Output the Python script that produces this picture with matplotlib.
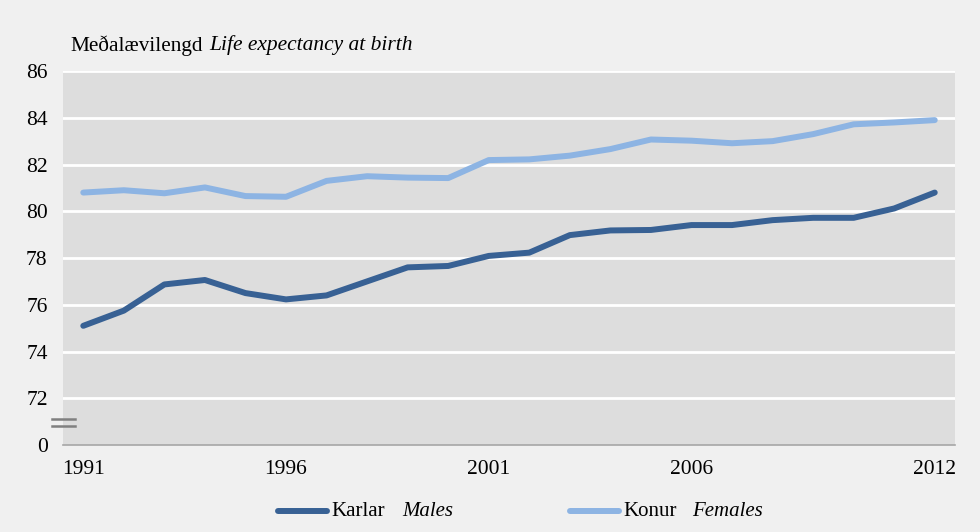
import numpy as np
import matplotlib.pyplot as plt
from matplotlib.lines import Line2D

plt.rcParams['font.family'] = ['Liberation Serif', 'DejaVu Serif']

# data
years = list(range(1991, 2013))
males = [75.1, 75.75, 76.87, 77.06, 76.5, 76.23, 76.4, 77.0, 77.6, 77.66, 78.09,
         78.23, 78.98, 79.18, 79.2, 79.41, 79.41, 79.62, 79.72, 79.72, 80.12, 80.8]
females = [80.8, 80.9, 80.77, 81.02, 80.65, 80.62, 81.3, 81.5, 81.44, 81.42, 82.19,
           82.22, 82.38, 82.66, 83.07, 83.02, 82.91, 83.0, 83.3, 83.72, 83.8, 83.9]
xtick_years = [1991, 1996, 2001, 2006, 2012]
ytick_vals = [70, 72, 74, 76, 78, 80, 82, 84, 86]
ytick_labels = ['0', '72', '74', '76', '78', '80', '82', '84', '86']

c_male = '#386194'
c_female = '#8db4e3'

fig = plt.figure(figsize=(9.8, 5.32), dpi=100, facecolor='#f0f0f0')
ax = fig.add_axes([0.0643, 0.1635, 0.9102, 0.703])
ax.set_facecolor('#dddddd')

ax.plot(years, males, color=c_male, lw=4.3, solid_capstyle='round', solid_joinstyle='round', zorder=3)
ax.plot(years, females, color=c_female, lw=4.3, solid_capstyle='round', solid_joinstyle='round', zorder=3)

ax.set_xlim(1990.5, 2012.5)
ax.set_ylim(70, 86)
ax.set_yticks(ytick_vals)
ax.set_yticklabels(ytick_labels)
ax.set_xticks(xtick_years)
ax.set_xticklabels([str(y) for y in xtick_years])

for v in ytick_vals[1:]:
    ax.axhline(v, color='white', lw=2, zorder=1)

for s in ['top', 'right', 'left']:
    ax.spines[s].set_visible(False)
ax.spines['bottom'].set_color('#a6a6a6')
ax.spines['bottom'].set_linewidth(1.2)
ax.tick_params(axis='both', length=0, labelsize=15.5, colors='black')
ax.tick_params(axis='y', pad=11)
ax.tick_params(axis='x', pad=11)

# axis break marks
for yb in [71.1, 70.8]:
    ax.plot([1990.22, 1990.8], [yb, yb], color='#808080', lw=1.8, clip_on=False, zorder=4)

# title
fig.text(0.072, 0.915, 'Meðalævilengd', fontsize=15.3, va='center', ha='left')
fig.text(209 / 980, 0.915, 'Life expectancy at birth', fontsize=15.5, style='italic', va='center', ha='left')

# legend
ly = 1 - 511 / 532
fig.add_artist(Line2D([278 / 980, 327 / 980], [ly, ly], color=c_male, lw=4.3, solid_capstyle='round'))
fig.text(331 / 980, ly, 'Karlar', fontsize=15, va='center', ha='left')
fig.text(402 / 980, ly, 'Males', fontsize=15, style='italic', va='center', ha='left')
fig.add_artist(Line2D([570 / 980, 619 / 980], [ly, ly], color=c_female, lw=4.3, solid_capstyle='round'))
fig.text(623 / 980, ly, 'Konur', fontsize=15, va='center', ha='left')
fig.text(692 / 980, ly, 'Females', fontsize=15, style='italic', va='center', ha='left')

fig.savefig('out.png', dpi=100, facecolor=fig.get_facecolor())
